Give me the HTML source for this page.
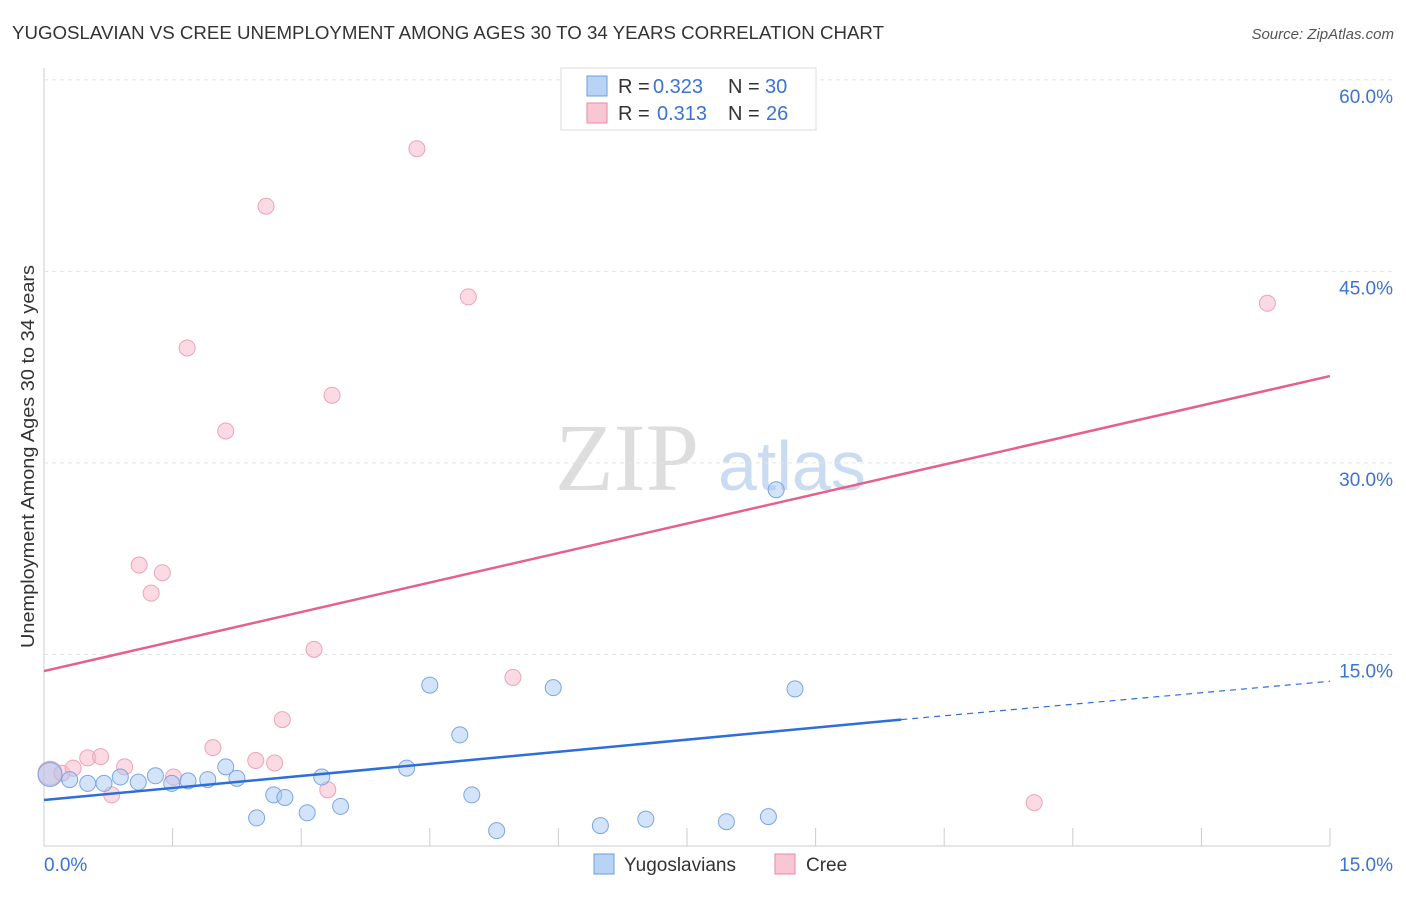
<!DOCTYPE html>
<html><head><meta charset="utf-8"><style>
body{margin:0;background:#fff;font-family:"Liberation Sans",sans-serif;}
</style></head><body>
<svg id="c" width="1406" height="892" xmlns="http://www.w3.org/2000/svg">
<text x="12" y="39" font-size="18" fill="#333" textLength="872" lengthAdjust="spacingAndGlyphs">YUGOSLAVIAN VS CREE UNEMPLOYMENT AMONG AGES 30 TO 34 YEARS CORRELATION CHART</text>
<text x="1394" y="39" font-size="15" fill="#555" font-style="italic" text-anchor="end">Source: ZipAtlas.com</text>
<text x="34" y="648" font-size="18" fill="#333" textLength="383" lengthAdjust="spacingAndGlyphs" transform="rotate(-90 34 648)">Unemployment Among Ages 30 to 34 years</text>
<text x="555" y="490" font-size="96" fill="#ddd" font-family="Liberation Serif,serif">ZIP</text>
<text x="718" y="490" font-size="70" fill="#c9dcf2">atlas</text>
<g id="grid"></g><g id="marks"></g>
<g font-size="20">
<rect x="561" y="68" width="255" height="62" fill="#fff" stroke="#ddd"/>
<rect x="587" y="76" width="20" height="20" fill="#b8d3f5" stroke="#6a9de0"/>
<text x="618" y="93" fill="#333">R =</text><text x="653" y="93" fill="#3b73d4">0.323</text>
<text x="728" y="93" fill="#333">N =</text><text x="765" y="93" fill="#3b73d4">30</text>
<rect x="587" y="103" width="20" height="20" fill="#f9c6d4" stroke="#e98aa6"/>
<text x="618" y="120" fill="#333">R =</text><text x="657" y="120" fill="#3b73d4">0.313</text>
<text x="728" y="120" fill="#333">N =</text><text x="766" y="120" fill="#3b73d4">26</text>
</g>
<g>
<rect x="594" y="854" width="20" height="20" fill="#b8d3f5" stroke="#6a9de0"/>
<text x="624" y="871" font-size="19" fill="#333">Yugoslavians</text>
<rect x="775" y="854" width="20" height="20" fill="#f9c6d4" stroke="#e98aa6"/>
<text x="806" y="871" font-size="19" fill="#333">Cree</text>
</g>
</svg>
<script>
const yTicks=[15,30,45,60];
const xTickLabels=["0.0%","15.0%"];
const blueX=[0.07,0.30,0.51,0.70,0.89,1.10,1.30,1.49,1.68,1.91,2.12,2.25,2.48,2.68,2.81,3.07,3.24,3.46,4.23,4.50,4.85,4.99,5.28,5.94,6.49,7.02,7.96,8.45,8.54,8.76];
const blueY=[5.6,5.2,4.9,4.9,5.4,5.0,5.5,4.9,5.1,5.2,6.2,5.3,2.2,4.0,3.8,2.6,5.4,3.1,6.1,12.6,8.7,4.0,1.2,12.4,1.6,2.1,1.9,2.3,27.9,12.3];
const pinkX=[0.07,0.21,0.34,0.51,0.66,0.79,0.94,1.11,1.25,1.38,1.51,1.67,1.97,2.12,2.47,2.59,2.69,2.78,3.15,3.31,3.36,4.35,4.95,5.47,11.55,14.27];
const pinkY=[5.7,5.7,6.1,6.9,7.0,4.0,6.2,22.0,19.8,21.4,5.4,39.0,7.7,32.5,6.7,50.1,6.5,9.9,15.4,4.4,35.3,54.6,43.0,13.2,3.4,42.5];
const blueTrend=[0,3.6,10,9.9,15,12.9];
const pinkTrend=[0,13.7,15,36.8];
const X=v=>44+v*85.73, Y=v=>846-v*12.77;
const ns="http://www.w3.org/2000/svg";
function mk(t,a,p){const e=document.createElementNS(ns,t);for(const k in a)e.setAttribute(k,a[k]);p.appendChild(e);return e;}
const g=document.getElementById('grid'),m=document.getElementById('marks');
mk('line',{x1:44,y1:68,x2:44,y2:846,stroke:'#ccc'},g);
mk('line',{x1:44,y1:846,x2:1330,y2:846,stroke:'#ccc'},g);
for(let i=0;i<=10;i++){const l=mk('line',{x1:44+i*128.6,y1:828,x2:44+i*128.6,y2:846,stroke:'#ccc'},g);

}
yTicks.forEach(t=>{const l=mk('line',{x1:44,y1:Y(t),x2:1392,y2:Y(t),stroke:'#e3e3e3','stroke-dasharray':'4,4'},g);


const tx=mk('text',{x:1393,y:Y(t)+23,'font-size':19,fill:'#3b73d4','text-anchor':'end'},g);tx.textContent=t.toFixed(1)+'%';

});
const a=mk('text',{x:44,y:871,'font-size':19,fill:'#3b73d4'},g);a.textContent=xTickLabels[0];


const b=mk('text',{x:1393,y:871,'font-size':19,fill:'#3b73d4','text-anchor':'end'},g);b.textContent=xTickLabels[1];


pinkX.forEach((x,i)=>{const c=mk('circle',{cx:X(x),cy:Y(pinkY[i]),r:i==0?12:8,fill:'rgba(248,182,201,0.5)',stroke:'#eca3b9'},m);

});
blueX.forEach((x,i)=>{const c=mk('circle',{cx:X(x),cy:Y(blueY[i]),r:i==0?12:8,fill:'rgba(168,200,243,0.5)',stroke:'#7aa6e2'},m);

});
let l=mk('line',{x1:X(blueTrend[0]),y1:Y(blueTrend[1]),x2:X(blueTrend[2]),y2:Y(blueTrend[3]),stroke:'#2c6fd6','stroke-width':2.5},m);


l=mk('line',{x1:X(blueTrend[2]),y1:Y(blueTrend[3]),x2:X(blueTrend[4]),y2:Y(blueTrend[5]),stroke:'#2c6fd6','stroke-width':1.2,'stroke-dasharray':'6,5'},m);


l=mk('line',{x1:X(pinkTrend[0]),y1:Y(pinkTrend[1]),x2:X(pinkTrend[2]),y2:Y(pinkTrend[3]),stroke:'#e5608b','stroke-width':2.5},m);


</script>
</body></html>
